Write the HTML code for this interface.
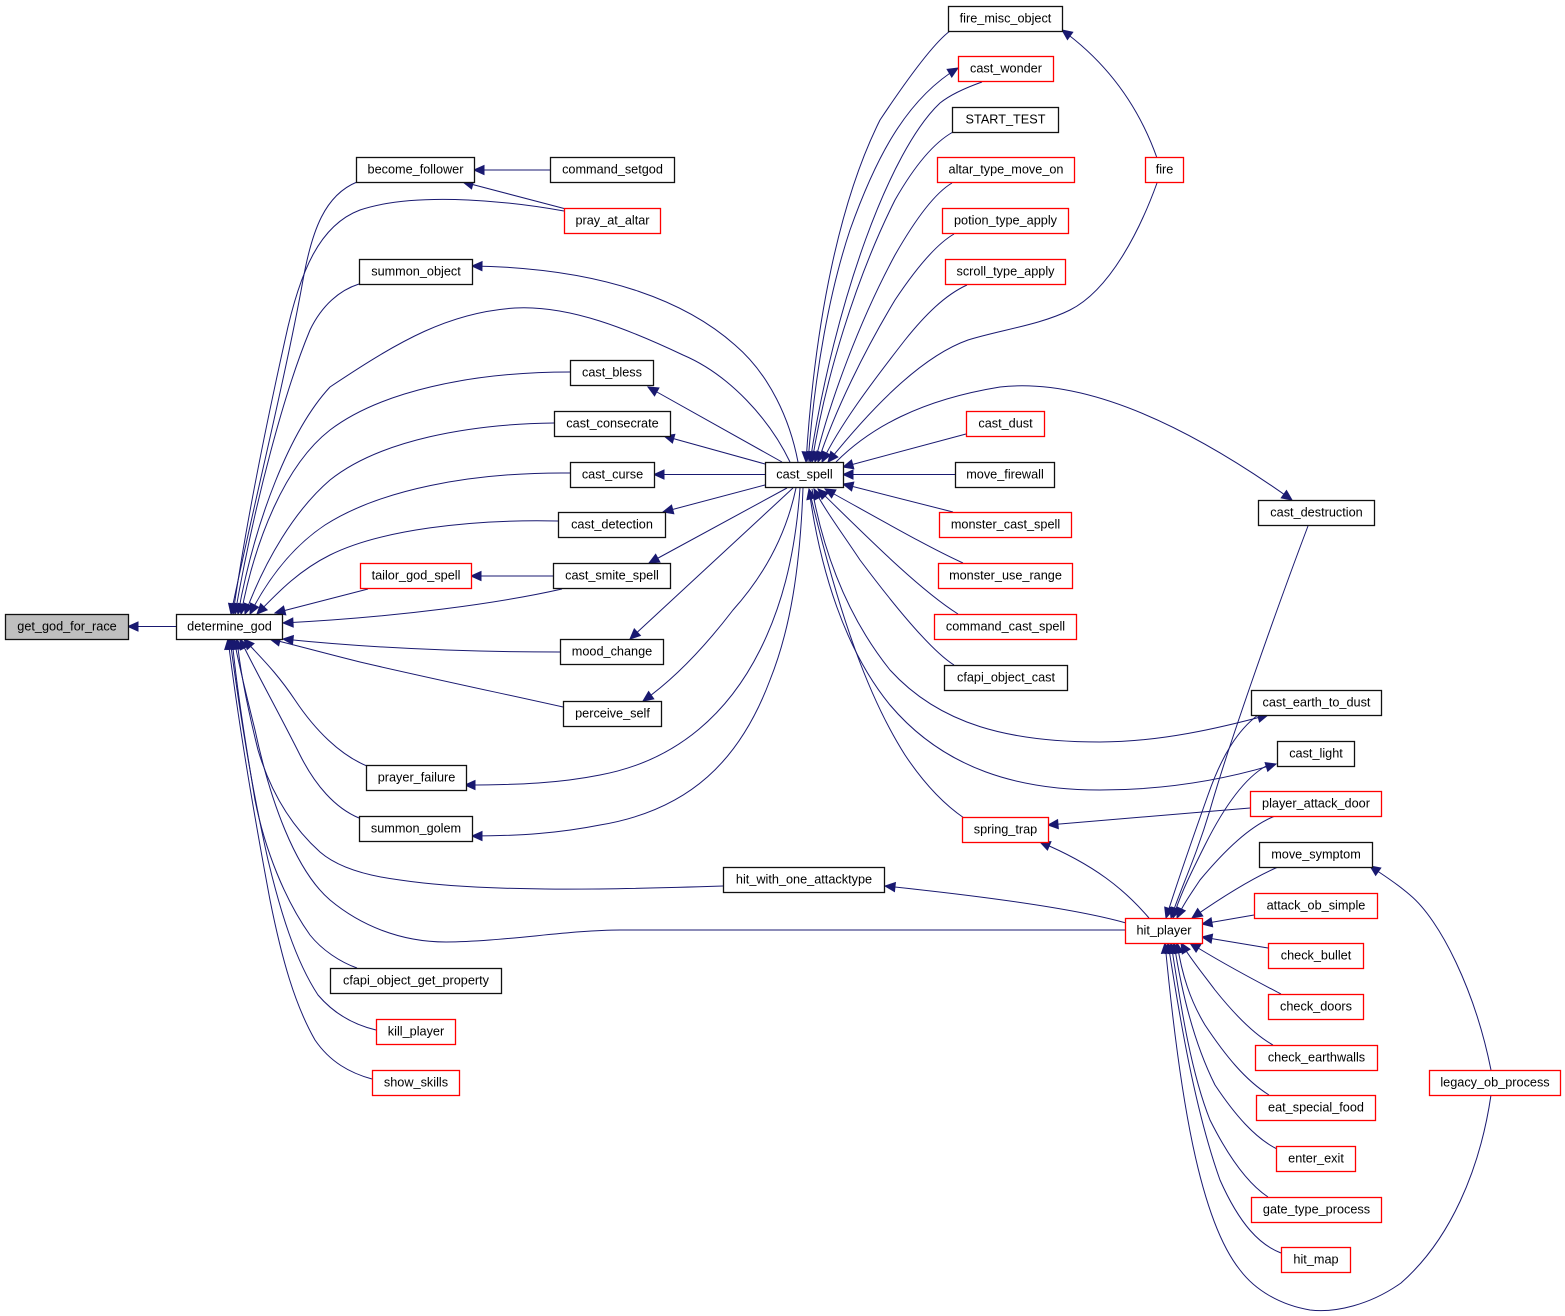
<!DOCTYPE html>
<html>
<head>
<meta charset="utf-8">
<style>
  html,body{margin:0;padding:0;background:#fff;}
  svg{display:block;}
  text{font-family:"Liberation Sans",Arial,sans-serif;font-size:12.7px;fill:#000;text-anchor:middle;transform:translate(0px,-1px);}
  .e{fill:none;stroke:#191970;stroke-width:1;marker-end:url(#a);}
  .n{fill:#fff;stroke:#111;stroke-width:1.3;}
  .r{fill:#fff;stroke:#ff0000;stroke-width:1.3;}
</style>
</head>
<body>
<svg width="1565" height="1316" viewBox="0 0 1565 1316" xmlns="http://www.w3.org/2000/svg">
<defs>
  <marker id="a" markerUnits="userSpaceOnUse" markerWidth="12" markerHeight="11" viewBox="0 0 12 11" refX="11" refY="5.5" orient="auto">
    <path d="M1,1 L11,5.5 L1,10 z" fill="#191970" stroke="#191970" stroke-width="1"/>
  </marker>
</defs>

<!-- ===== EDGES ===== -->
<path class="e" d="M176,626.5 L128,626.5"/>

<path class="e" d="M357,182 C325,195 312,230 303,280 C285,380 250,520 231,614"/>
<path class="e" d="M564,211 C520,203 420,190 360,210 C320,225 300,270 285,340 C265,430 245,530 233,614"/>
<path class="e" d="M359,284 C340,290 322,305 310,330 C285,390 255,500 235,614"/>
<path class="e" d="M790,462 C770,420 730,375 683,355 C630,330 570,305 515,308 C450,312 400,340 330,387 C290,430 255,520 238,614"/>
<path class="e" d="M570,372 C470,372 380,392 330,430 C285,465 255,540 241,614"/>
<path class="e" d="M554,423 C470,424 380,440 330,480 C295,510 265,560 245,614"/>
<path class="e" d="M570,473 C470,472 380,490 325,525 C295,545 270,575 250,614"/>
<path class="e" d="M558,521 C470,519 380,530 330,555 C300,570 280,590 257,614"/>
<path class="e" d="M368,589 L275,613"/>
<path class="e" d="M562,589 C500,603 400,617 283,623"/>
<path class="e" d="M560,652 C470,652 380,649 283,639"/>
<path class="e" d="M563,707 C500,693 420,676 360,662 C320,652 295,645 270,639"/>
<path class="e" d="M367,766 C340,755 315,730 295,700 C275,670 258,655 244,639"/>
<path class="e" d="M359,818 C335,808 315,785 300,755 C280,715 255,670 240,639"/>
<path class="e" d="M723,886 C600,890 480,892 400,880 C360,875 335,865 320,852 C290,825 270,790 258,750 C248,710 240,670 237,639"/>
<path class="e" d="M1125,930 L620,930 C570,930 500,942 446,942 C400,942 360,925 330,900 C295,870 270,800 255,730 C245,690 238,660 234,639"/>
<path class="e" d="M357,968 C340,962 322,950 310,935 C285,900 265,850 255,800 C245,740 237,690 232,639"/>
<path class="e" d="M376,1030 C355,1025 335,1015 318,995 C295,960 280,910 268,860 C250,780 238,700 230,639"/>
<path class="e" d="M372,1079 C350,1073 330,1062 315,1040 C295,1005 282,960 270,900 C255,820 238,720 228,639"/>

<path class="e" d="M550,170 L474,170"/>
<path class="e" d="M566,209 L463,182"/>
<path class="e" d="M553,576 L471,576"/>

<path class="e" d="M798,462 C790,420 770,375 735,345 C690,305 610,268 472,266"/>
<path class="e" d="M782,462 L648,387"/>
<path class="e" d="M765,464 L664,436"/>
<path class="e" d="M765,474.5 L654,474.5"/>
<path class="e" d="M765,485 L663,512"/>
<path class="e" d="M787,488 L649,563"/>
<path class="e" d="M793,488 L630,639"/>
<path class="e" d="M796,488 C785,540 760,580 733,610 C710,640 680,675 643,701"/>
<path class="e" d="M800,488 C795,560 780,610 760,650 C730,710 680,760 600,775 C560,783 520,785 465,785"/>
<path class="e" d="M803,488 C800,570 790,630 770,680 C740,760 690,810 600,825 C560,833 520,836 472,836"/>

<path class="e" d="M950,31 C935,42 910,75 880,120 C840,200 815,320 806,462"/>
<path class="e" d="M808,462 C815,370 830,290 850,230 C875,160 905,100 958,68"/>
<path class="e" d="M982,82 C965,88 950,95 940,103 C890,150 835,300 810,462"/>
<path class="e" d="M953,132 C935,142 915,165 895,200 C855,280 825,380 812,462"/>
<path class="e" d="M952,183 C935,193 915,220 895,255 C860,320 830,400 815,462"/>
<path class="e" d="M954,234 C935,245 915,270 895,300 C865,350 835,410 818,462"/>
<path class="e" d="M967,285 C945,295 925,315 905,340 C870,385 840,425 822,462"/>
<path class="e" d="M1157,183 C1140,230 1110,290 1070,310 C1040,325 1000,330 968,340 C920,357 870,410 828,462"/>
<path class="e" d="M1157,158 C1140,110 1110,65 1062,30"/>
<path class="e" d="M836,462 C870,428 920,400 1000,387 C1080,378 1180,420 1292,500"/>
<path class="e" d="M966,434 L843,467"/>
<path class="e" d="M955,474.5 L843,474.5"/>
<path class="e" d="M953,512 L843,484"/>
<path class="e" d="M963,563 C930,548 890,525 825,489"/>
<path class="e" d="M958,614 C920,590 870,540 818,489"/>
<path class="e" d="M954,665 C930,650 890,600 860,560 C840,530 825,510 814,489"/>
<path class="e" d="M964,818 C945,805 925,785 905,755 C870,700 840,620 809,489"/>
<path class="e" d="M812,489 C825,560 850,620 890,670 C940,725 1010,742 1100,742 C1160,742 1220,728 1268,715"/>
<path class="e" d="M809,489 C820,570 845,650 890,705 C945,770 1020,790 1100,790 C1170,790 1230,778 1276,764"/>

<path class="e" d="M1250,808 L1048,825"/>
<path class="e" d="M1149,918 C1125,890 1095,865 1040,842"/>
<path class="e" d="M1126,923 C1080,910 1000,898 885,886"/>

<path class="e" d="M1308,526 C1280,600 1230,740 1210,810 C1195,860 1180,890 1171,918"/>
<path class="e" d="M1258,715 C1238,730 1222,755 1208,795 C1192,840 1178,880 1166,918"/>
<path class="e" d="M1266,766 C1245,778 1225,805 1205,845 C1190,875 1180,895 1173,918"/>
<path class="e" d="M1275,816 C1250,826 1225,850 1200,880 C1190,895 1183,905 1177,918"/>
<path class="e" d="M1278,867 C1255,877 1225,895 1192,918"/>
<path class="e" d="M1254,915 L1202,924"/>
<path class="e" d="M1268,948 L1202,937"/>
<path class="e" d="M1281,994 C1260,983 1225,965 1190,943"/>
<path class="e" d="M1273,1045 C1255,1035 1235,1015 1215,990 C1200,970 1190,958 1181,943"/>
<path class="e" d="M1269,1095 C1245,1080 1225,1055 1205,1025 C1190,1000 1182,975 1177,943"/>
<path class="e" d="M1277,1149 C1255,1138 1235,1115 1215,1085 C1195,1045 1182,995 1174,943"/>
<path class="e" d="M1268,1197 C1250,1185 1230,1160 1210,1120 C1190,1070 1180,1000 1171,943"/>
<path class="e" d="M1281,1253 C1260,1245 1240,1225 1220,1180 C1195,1110 1180,1020 1168,943"/>
<path class="e" d="M1491,1095 C1480,1170 1450,1240 1401,1283 C1370,1305 1335,1313 1310,1310 C1280,1305 1255,1290 1240,1270 C1200,1220 1180,1100 1165,943"/>
<path class="e" d="M1491,1070 C1475,990 1440,920 1410,895 C1395,882 1383,875 1370,866"/>

<!-- ===== NODES ===== -->
<rect x="5.5" y="614.5" width="123" height="25" fill="#bfbfbf" stroke="#111" stroke-width="1.3"/>
<text x="67" y="631.5">get_god_for_race</text>

<rect class="n" x="176.5" y="614.5" width="106" height="25"/><text x="229.5" y="631.5">determine_god</text>
<rect class="n" x="356.5" y="157.5" width="118" height="25"/><text x="415.5" y="174.5">become_follower</text>
<rect class="n" x="550.5" y="157.5" width="124" height="25"/><text x="612.5" y="174.5">command_setgod</text>
<rect class="r" x="564.5" y="208.5" width="96" height="25"/><text x="612.5" y="225.5">pray_at_altar</text>
<rect class="n" x="359.5" y="259.5" width="113" height="25"/><text x="416" y="276.5">summon_object</text>
<rect class="n" x="570.5" y="360.5" width="83" height="25"/><text x="612" y="377.5">cast_bless</text>
<rect class="n" x="554.5" y="411.5" width="116" height="25"/><text x="612.5" y="428.5">cast_consecrate</text>
<rect class="n" x="570.5" y="462.5" width="84" height="25"/><text x="612.5" y="479.5">cast_curse</text>
<rect class="n" x="558.5" y="512.5" width="107" height="25"/><text x="612" y="529.5">cast_detection</text>
<rect class="r" x="360.5" y="563.5" width="111" height="25"/><text x="416" y="580.5">tailor_god_spell</text>
<rect class="n" x="553.5" y="563.5" width="117" height="25"/><text x="612" y="580.5">cast_smite_spell</text>
<rect class="n" x="560.5" y="639.5" width="103" height="25"/><text x="612" y="656.5">mood_change</text>
<rect class="n" x="563.5" y="701.5" width="98" height="25"/><text x="612.5" y="718.5">perceive_self</text>
<rect class="n" x="366.5" y="765.5" width="100" height="25"/><text x="416.5" y="782.5">prayer_failure</text>
<rect class="n" x="359.5" y="816.5" width="113" height="25"/><text x="416" y="833.5">summon_golem</text>
<rect class="n" x="723.5" y="867.5" width="161" height="25"/><text x="804" y="884.5">hit_with_one_attacktype</text>
<rect class="n" x="330.5" y="968.5" width="171" height="25"/><text x="416" y="985.5">cfapi_object_get_property</text>
<rect class="r" x="376.5" y="1019.5" width="79" height="25"/><text x="416" y="1036.5">kill_player</text>
<rect class="r" x="372.5" y="1070.5" width="87" height="25"/><text x="416" y="1087.5">show_skills</text>

<rect class="n" x="765.5" y="462.5" width="78" height="25"/><text x="804.5" y="479.5">cast_spell</text>

<rect class="n" x="948.5" y="6.5" width="114" height="25"/><text x="1005.5" y="23.5">fire_misc_object</text>
<rect class="r" x="958.5" y="56.5" width="95" height="25"/><text x="1006" y="73.5">cast_wonder</text>
<rect class="n" x="952.5" y="107.5" width="106" height="25"/><text x="1005.5" y="124.5">START_TEST</text>
<rect class="r" x="937.5" y="157.5" width="137" height="25"/><text x="1006" y="174.5">altar_type_move_on</text>
<rect class="r" x="1145.5" y="157.5" width="38" height="25"/><text x="1164.5" y="174.5">fire</text>
<rect class="r" x="942.5" y="208.5" width="126" height="25"/><text x="1005.5" y="225.5">potion_type_apply</text>
<rect class="r" x="945.5" y="259.5" width="120" height="25"/><text x="1005.5" y="276.5">scroll_type_apply</text>
<rect class="r" x="966.5" y="411.5" width="78" height="25"/><text x="1005.5" y="428.5">cast_dust</text>
<rect class="n" x="955.5" y="462.5" width="99" height="25"/><text x="1005" y="479.5">move_firewall</text>
<rect class="r" x="939.5" y="512.5" width="132" height="25"/><text x="1005.5" y="529.5">monster_cast_spell</text>
<rect class="r" x="938.5" y="563.5" width="134" height="25"/><text x="1005.5" y="580.5">monster_use_range</text>
<rect class="r" x="934.5" y="614.5" width="142" height="25"/><text x="1005.5" y="631.5">command_cast_spell</text>
<rect class="n" x="944.5" y="665.5" width="123" height="25"/><text x="1006" y="682.5">cfapi_object_cast</text>
<rect class="r" x="962.5" y="817.5" width="86" height="25"/><text x="1005.5" y="834.5">spring_trap</text>

<rect class="n" x="1258.5" y="500.5" width="116" height="25"/><text x="1316.5" y="517.5">cast_destruction</text>
<rect class="n" x="1251.5" y="690.5" width="130" height="25"/><text x="1316.5" y="707.5">cast_earth_to_dust</text>
<rect class="n" x="1277.5" y="741.5" width="77" height="25"/><text x="1316" y="758.5">cast_light</text>
<rect class="r" x="1250.5" y="791.5" width="131" height="25"/><text x="1316" y="808.5">player_attack_door</text>
<rect class="n" x="1259.5" y="842.5" width="113" height="25"/><text x="1316" y="859.5">move_symptom</text>
<rect class="r" x="1254.5" y="893.5" width="123" height="25"/><text x="1316" y="910.5">attack_ob_simple</text>
<rect class="r" x="1125.5" y="918.5" width="77" height="25"/><text x="1164" y="935.5">hit_player</text>
<rect class="r" x="1268.5" y="943.5" width="95" height="25"/><text x="1316" y="960.5">check_bullet</text>
<rect class="r" x="1268.5" y="994.5" width="95" height="25"/><text x="1316" y="1011.5">check_doors</text>
<rect class="r" x="1255.5" y="1045.5" width="122" height="25"/><text x="1316.5" y="1062.5">check_earthwalls</text>
<rect class="r" x="1256.5" y="1095.5" width="119" height="25"/><text x="1316" y="1112.5">eat_special_food</text>
<rect class="r" x="1276.5" y="1146.5" width="79" height="25"/><text x="1316" y="1163.5">enter_exit</text>
<rect class="r" x="1251.5" y="1197.5" width="130" height="25"/><text x="1316.5" y="1214.5">gate_type_process</text>
<rect class="r" x="1281.5" y="1247.5" width="69" height="25"/><text x="1316" y="1264.5">hit_map</text>
<rect class="r" x="1429.5" y="1070.5" width="131" height="25"/><text x="1495" y="1087.5">legacy_ob_process</text>
</svg>
</body>
</html>
